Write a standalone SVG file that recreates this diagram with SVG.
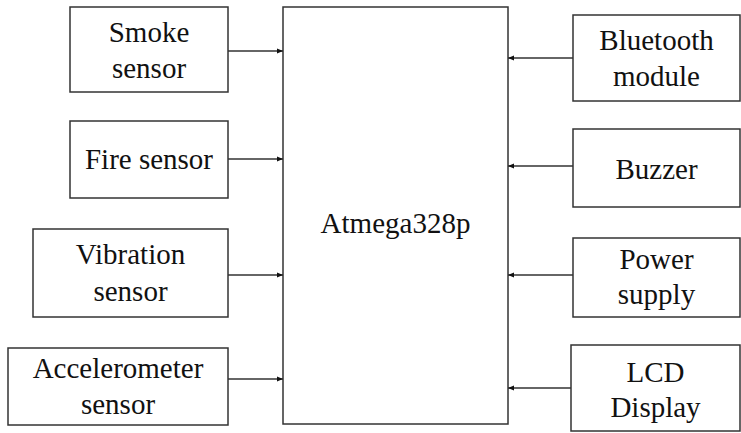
<svg xmlns="http://www.w3.org/2000/svg" width="741" height="433" viewBox="0 0 741 433">
<defs>
<marker id="ah" viewBox="0 0 6 6" refX="6" refY="3" markerWidth="6" markerHeight="6" markerUnits="userSpaceOnUse" orient="auto">
<path d="M0,0.5 L6,3 L0,5.5 Z" fill="#111"/>
</marker>
<style>
.box{fill:#fff;stroke:#333;stroke-width:1.5}
.t{font-size:29px;fill:#111;text-anchor:middle}
.c{stroke:#333;stroke-width:1.3;fill:none;marker-end:url(#ah)}
</style>
</defs>
<rect width="741" height="433" fill="#fff"/>
<g font-family="Times New Roman, Liberation Serif, Tinos, serif">
<g id="mcu"><rect class="box" x="283" y="7" width="225" height="417"/><text class="t" x="395.5" y="233">Atmega328p</text></g>
<g id="smoke"><rect class="box" x="70" y="7" width="158" height="85"/><text class="t" x="149" y="42">Smoke</text><text class="t" x="149" y="78">sensor</text></g>
<g id="fire"><rect class="box" x="70" y="121" width="158" height="77"/><text class="t" x="149" y="169">Fire sensor</text></g>
<g id="vibration"><rect class="box" x="33" y="229" width="195" height="88"/><text class="t" x="130.5" y="264">Vibration</text><text class="t" x="130.5" y="301">sensor</text></g>
<g id="accel"><rect class="box" x="8" y="348" width="220" height="77"/><text class="t" x="118" y="378">Accelerometer</text><text class="t" x="118" y="414">sensor</text></g>
<g id="bluetooth"><rect class="box" x="573" y="15" width="167" height="86"/><text class="t" x="656.5" y="50">Bluetooth</text><text class="t" x="656.5" y="86">module</text></g>
<g id="buzzer"><rect class="box" x="573" y="129" width="167" height="78"/><text class="t" x="656.5" y="179">Buzzer</text></g>
<g id="power"><rect class="box" x="573" y="238" width="167" height="79"/><text class="t" x="656.5" y="269">Power</text><text class="t" x="656.5" y="304">supply</text></g>
<g id="lcd"><rect class="box" x="571" y="345" width="169" height="86"/><text class="t" x="655.5" y="382">LCD</text><text class="t" x="655.5" y="417">Display</text></g>
</g>
<g id="connectors">
<line class="c" x1="228" y1="51" x2="283" y2="51"/>
<line class="c" x1="228" y1="159" x2="283" y2="159"/>
<line class="c" x1="228" y1="275" x2="283" y2="275"/>
<line class="c" x1="228" y1="379" x2="283" y2="379"/>
<line class="c" x1="573" y1="58" x2="508" y2="58"/>
<line class="c" x1="573" y1="166" x2="508" y2="166"/>
<line class="c" x1="573" y1="275" x2="508" y2="275"/>
<line class="c" x1="571" y1="388" x2="508" y2="388"/>
</g>
</svg>
